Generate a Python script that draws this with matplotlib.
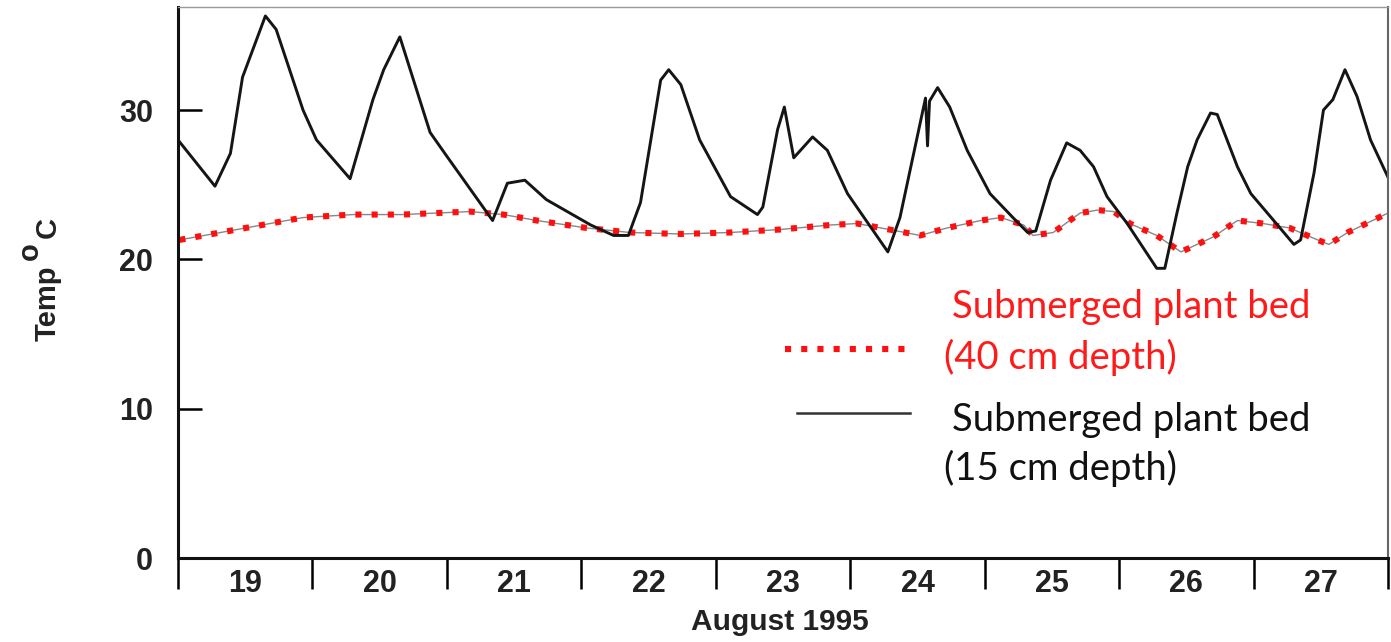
import matplotlib.pyplot as plt

# 15 cm depth (solid black), day of August 1995 vs temperature
days_15 = [19.00, 19.275, 19.39, 19.48, 19.65, 19.73, 19.93, 20.03, 20.28, 20.45,
           20.53, 20.65, 20.875, 21.00, 21.34, 21.45, 21.58, 21.74, 22.07, 22.24,
           22.35, 22.44, 22.59, 22.65, 22.74, 22.88, 23.11, 23.31, 23.35, 23.46,
           23.51, 23.58, 23.72, 23.83, 23.98, 24.28, 24.37, 24.56, 24.575, 24.59,
           24.65, 24.74, 24.87, 25.04, 25.21, 25.32, 25.38, 25.49, 25.61, 25.71,
           25.81, 25.91, 26.06, 26.28, 26.34, 26.43, 26.51, 26.58, 26.68, 26.73,
           26.88, 26.98, 27.15, 27.30, 27.35, 27.45, 27.52, 27.59, 27.68, 27.77,
           27.87, 28.00]
temp_15 = [28.0, 24.9, 27.1, 32.2, 36.3, 35.4, 30.0, 28.0, 25.4, 30.7,
           32.7, 34.9, 28.5, 26.9, 22.6, 25.1, 25.3, 24.0, 22.3, 21.6,
           21.6, 23.8, 32.0, 32.7, 31.7, 28.0, 24.2, 23.0, 23.5, 28.7,
           30.2, 26.8, 28.2, 27.3, 24.4, 20.5, 22.8, 30.8, 27.6, 30.6,
           31.5, 30.2, 27.3, 24.4, 22.8, 21.8, 21.9, 25.3, 27.8, 27.3,
           26.2, 24.2, 22.4, 19.4, 19.4, 23.1, 26.2, 28.0, 29.8, 29.7,
           26.2, 24.4, 22.6, 21.0, 21.3, 25.8, 30.0, 30.7, 32.7, 30.9,
           28.0, 25.5]

# 40 cm depth (red dotted)
days_40 = [19.01, 19.44, 19.93, 20.30, 20.67, 21.17, 21.42, 21.67, 22.04, 22.36,
           22.74, 23.11, 23.48, 23.85, 24.05, 24.35, 24.52, 24.72, 24.97, 25.12,
           25.29, 25.36, 25.51, 25.71, 25.84, 25.96, 26.08, 26.28, 26.46, 26.70,
           26.88, 27.07, 27.27, 27.45, 27.56, 27.70, 28.00]
temp_40 = [21.3, 22.0, 22.8, 23.0, 23.0, 23.2, 23.0, 22.6, 22.1, 21.8,
           21.7, 21.8, 22.0, 22.3, 22.4, 21.9, 21.6, 22.1, 22.6, 22.8,
           22.3, 21.6, 21.8, 23.1, 23.3, 23.2, 22.4, 21.6, 20.5, 21.5,
           22.6, 22.4, 22.1, 21.4, 21.0, 21.8, 23.1]

day_labels = ["19", "20", "21", "22", "23", "24", "25", "26", "27"]
y_ticks = [0, 10, 20, 30]

W, H = 1391, 642
fig = plt.figure(figsize=(W / 100, H / 100), dpi=100)
ax = fig.add_axes([178 / W, 1 - 558 / H, 1210 / W, 551 / H])

ax.plot(days_40, temp_40, color="#888888", lw=1.0)
ax.plot(days_40, temp_40, color="#ff1010", lw=4.4, linestyle=":")
ax.plot(days_15, temp_15, color="#151515", lw=2.1)

ax.set_xlim(19, 28)
ax.set_ylim(0, 36.9)

axis_font = dict(family="Liberation Sans", weight="bold", color="#222222")

ax.set_yticks(y_ticks)
ax.set_yticklabels([str(v) for v in y_ticks], fontsize=22, **axis_font)
ax.tick_params(axis="y", direction="in", length=17, width=1.8, pad=18)

ax.set_xticks(range(19, 29))
ax.set_xticklabels([])
ax.set_xticks([d + 0.5 for d in range(19, 28)], minor=True)
ax.set_xticklabels(day_labels, minor=True, fontsize=22, **axis_font)
ax.tick_params(axis="x", which="major", direction="out", length=22, width=1.8)
ax.tick_params(axis="x", which="minor", length=0, pad=8)

ax.set_xlabel("August 1995", fontsize=21.5, **axis_font)
ax.xaxis.set_label_coords(0.4975, -0.09)

# y label with a full-size raised "o", as in the scanned figure
ylab = dict(rotation=90, rotation_mode="anchor", ha="left", va="baseline",
            fontsize=21, **axis_font)
fig.text(56 / W, 1 - 341 / H, "Temp", **ylab)
fig.text(38 / W, 1 - 260 / H, "o", **ylab)
fig.text(56 / W, 1 - 238 / H, "C", **ylab)

for side in ["left", "bottom"]:
    ax.spines[side].set_linewidth(2.2)
    ax.spines[side].set_color("#111111")
ax.spines["top"].set_linewidth(1.0)
ax.spines["top"].set_color("#999999")
ax.spines["right"].set_linewidth(1.5)
ax.spines["right"].set_color("#666666")

# legend drawn by hand, like the annotated original
leg_font = dict(family="Lato", fontsize=27.5)
fig.text(952 / W, 1 - 307 / H, "Submerged plant bed", color="#ff1a1a",
         va="center", ha="left", **leg_font)
fig.text(944 / W, 1 - 357 / H, "(40 cm depth)", color="#ff1a1a",
         va="center", ha="left", **leg_font)
fig.text(952 / W, 1 - 420 / H, "Submerged plant bed", color="#111111",
         va="center", ha="left", **leg_font)
fig.text(944 / W, 1 - 468 / H, "(15 cm depth)", color="#111111",
         va="center", ha="left", **leg_font)
fig.add_artist(plt.Line2D([785 / W, 912 / W], [1 - 349 / H] * 2,
                          color="#ff1010", lw=4.4, linestyle=":"))
fig.add_artist(plt.Line2D([797 / W, 910 / W], [1 - 413 / H] * 2,
                          color="#333333", lw=1.8))

fig.savefig("out.png", dpi=100)
